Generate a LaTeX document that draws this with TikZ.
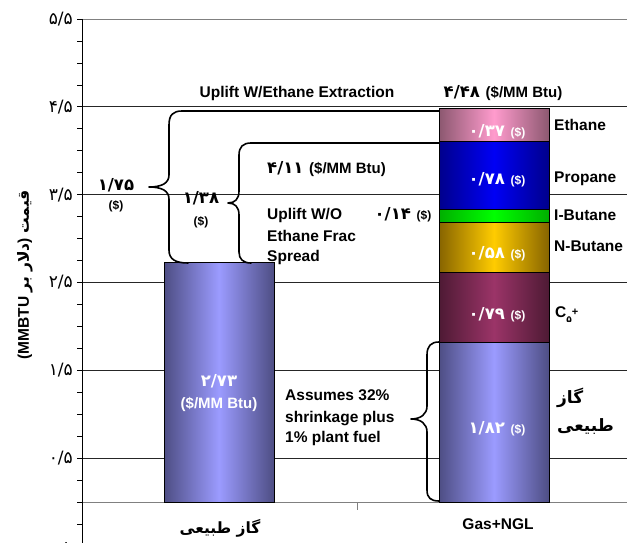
\documentclass[tikz,border=0pt]{standalone}
\usepackage{fontspec}
\setmainfont{Liberation Sans}
\newfontfamily\fa[Script=Arabic]{DejaVu Sans}
\TeXXeTstate=1
\definecolor{gasD}{RGB}{78,78,132}
\definecolor{gasL}{RGB}{155,155,255}
\definecolor{ethD}{RGB}{140,88,112}
\definecolor{ethL}{RGB}{255,155,205}
\definecolor{proD}{RGB}{0,0,140}
\definecolor{proL}{RGB}{0,0,245}
\definecolor{ibuD}{RGB}{0,175,0}
\definecolor{ibuL}{RGB}{0,255,0}
\definecolor{nbuD}{RGB}{135,100,0}
\definecolor{nbuL}{RGB}{255,204,0}
\definecolor{cfiD}{RGB}{78,26,52}
\definecolor{cfiL}{RGB}{155,52,104}
\newcommand\dolr{{\fontsize{12}{12}\selectfont\bfseries(\$)}}
\newcommand\mmbtu{{\fontsize{15}{15}\selectfont\bfseries(\$/MM Btu)}}
\tikzset{
  lat/.style={font=\fontsize{15.5}{18}\selectfont\bfseries, inner sep=0pt, text height=11pt, text depth=3pt},
  num/.style={font=\fa\fontsize{16.5}{18}\selectfont\bfseries, inner sep=0pt},
  val/.style={num, text=white},
  ylab/.style={font=\fa\fontsize{17}{18}\selectfont, anchor=east, inner sep=0pt},
  gridl/.style={line width=0.9pt, black!85},
  grayl/.style={line width=0.9pt, black!50},
  seg/.style={draw=black, line width=0.8pt},
  brace/.style={line width=1.6pt, line join=round, line cap=round},
}
\begin{document}
\begin{tikzpicture}[x=1pt,y=-1pt]
\useasboundingbox (0,0) rectangle (627,543);
% grid
\draw[grayl] (82,19) -- (627,19);
\foreach \y in {106.9,194.7,282.5,370.3,458.1} \draw[gridl] (82,\y) -- (627,\y);
\draw[grayl] (82,502) -- (627,502);
\draw[grayl] (357,502) -- (357,510);
% y axis
\draw[line width=0.9pt] (82,19) -- (82,543);
\foreach \k in {-1,...,22} \draw[line width=0.8pt] (77,{502-21.95*\k}) -- (82,{502-21.95*\k});
\node[ylab] (y55) at (73,19) {۵/۵};
\node[ylab] (y45) at (73,106.9) {۴/۵};
\node[ylab] (y35) at (73,194.7) {۳/۵};
\node[ylab] (y25) at (73,282.5) {۲/۵};
\node[ylab] (y15) at (73,370.3) {۱/۵};
\node[ylab] (y05) at (73,458.1) {۰/۵};
\node[ylab] (y00) at (71,546) {۰};
\node[rotate=90, inner sep=0pt] (ytitle) at (25,275) {\fontsize{15.5}{18}\selectfont\bfseries\beginL(MMBTU {\fa\beginR دلار بر\endR}) {\fa\beginR قیمت\endR}\endL};
% gas bar
\path[seg, left color=gasD, right color=gasD, middle color=gasL] (164,502) rectangle (274,262.3);
% NGL stack
\path[seg, left color=gasD, right color=gasD, middle color=gasL] (439,502) rectangle (549,342.2);
\path[seg, left color=cfiD, right color=cfiD, middle color=cfiL] (439,342.2) rectangle (549,272.8);
\path[seg, left color=nbuD, right color=nbuD, middle color=nbuL] (439,272.8) rectangle (549,221.9);
\path[seg, left color=ibuD, right color=ibuD, middle color=ibuL] (439,221.9) rectangle (549,209.6);
\path[seg, left color=proD, right color=proD, middle color=proL] (439,209.6) rectangle (549,141.1);
\path[seg, left color=ethD, right color=ethD, middle color=ethL] (439,141.1) rectangle (549,108.6);
% braces
\coordinate (bE) at (439,111);
\coordinate (bP) at (439,143);
\coordinate (sT) at (439,342);
\coordinate (sB) at (439,501);
\draw[brace] (bE) -- (182,111) .. controls (173,111) and (169,115) .. (169,125) -- (169,175) .. controls (169,183) and (162,187) .. (149,187) .. controls (162,187) and (169,191) .. (169,199) -- (169,250) .. controls (169,259) and (175,263) .. (188,263);
\draw[brace] (bP) -- (251,143) .. controls (243,143) and (239,147) .. (239,155) -- (239,191) .. controls (239,199) and (235,203) .. (228,203) .. controls (235,203) and (239,207) .. (239,215) -- (239,252) .. controls (239,259) and (243,263) .. (251,263);
\draw[brace] (sT) .. controls (431,342) and (427,346) .. (427,355) -- (427,406) .. controls (427,414) and (421,419) .. (411,419) .. controls (421,419) and (427,424) .. (427,432) -- (427,490) .. controls (427,498) and (431,501) .. (sB);
% values in bars
\node[val] (vE) at (497,132) {۰/۳۷ {\normalfont\color{white}\dolr}};
\node[val] (vP) at (497,180) {۰/۷۸ {\normalfont\color{white}\dolr}};
\node[val] (vN) at (497,254) {۰/۵۸ {\normalfont\color{white}\dolr}};
\node[val] (vC) at (497,315) {۰/۷۹ {\normalfont\color{white}\dolr}};
\node[val] (vG) at (497,429) {۱/۸۲ {\normalfont\color{white}\dolr}};
\node[val] (vgas1) at (219,381) {۲/۷۳};
\node[val] (vgas2) at (219,404) {\normalfont\mmbtu};
% right labels
\node[lat, anchor=west] (lE) at (554,126) {Ethane};
\node[lat, anchor=west] (lP) at (554,178) {Propane};
\node[lat, anchor=west] (lI) at (554,216) {I-Butane};
\node[lat, anchor=west] (lN) at (554,247) {N-Butane};
\node[lat, anchor=west] (lC) at (555,313) {C\raisebox{-5pt}{\fa\fontsize{9}{9}\selectfont ۵}\raisebox{2pt}{\fontsize{11}{11}\selectfont +}};
\node[anchor=west, inner sep=0pt, font=\fa\fontsize{17}{20}\selectfont\bfseries] (lG1) at (557,398) {\beginR گاز\endR};
\node[anchor=west, inner sep=0pt, font=\fa\fontsize{17}{20}\selectfont\bfseries] (lG2) at (557,427) {\beginR طبیعی\endR};
% top labels
\node[lat] (tE) at (297,93) {Uplift W/Ethane Extraction};
\node[num] (tT) at (503,93) {۴/۴۸ {\normalfont\mmbtu}};
\node[num, anchor=west] (tP) at (267,169) {۴/۱۱ {\normalfont\mmbtu}};
\node[lat, anchor=west] (u1) at (267,215) {Uplift W/O};
\node[lat, anchor=west] (u2) at (267,237) {Ethane Frac};
\node[lat, anchor=west] (u3) at (267,257) {Spread};
\node[num] (vI) at (403,215) {۰/۱۴ {\normalfont\dolr}};
\node[num] (d1) at (116,185) {۱/۷۵};
\node[num] (d1b) at (116,206) {\normalfont\dolr};
\node[num] (d2) at (201,198) {۱/۳۸};
\node[num] (d2b) at (201,222) {\normalfont\dolr};
% shrinkage note
\node[lat, anchor=west] (s1) at (285,396) {Assumes 32\%};
\node[lat, anchor=west] (s2) at (285,418) {shrinkage plus};
\node[lat, anchor=west] (s3) at (285,438) {1\% plant fuel};
% categories
\node[inner sep=0pt, font=\fa\fontsize{15.5}{18}\selectfont\bfseries] (cG) at (220,528) {\beginR گاز طبیعی\endR};
\node[lat] (cN) at (498,525) {Gas+NGL};
\end{tikzpicture}
\end{document}
